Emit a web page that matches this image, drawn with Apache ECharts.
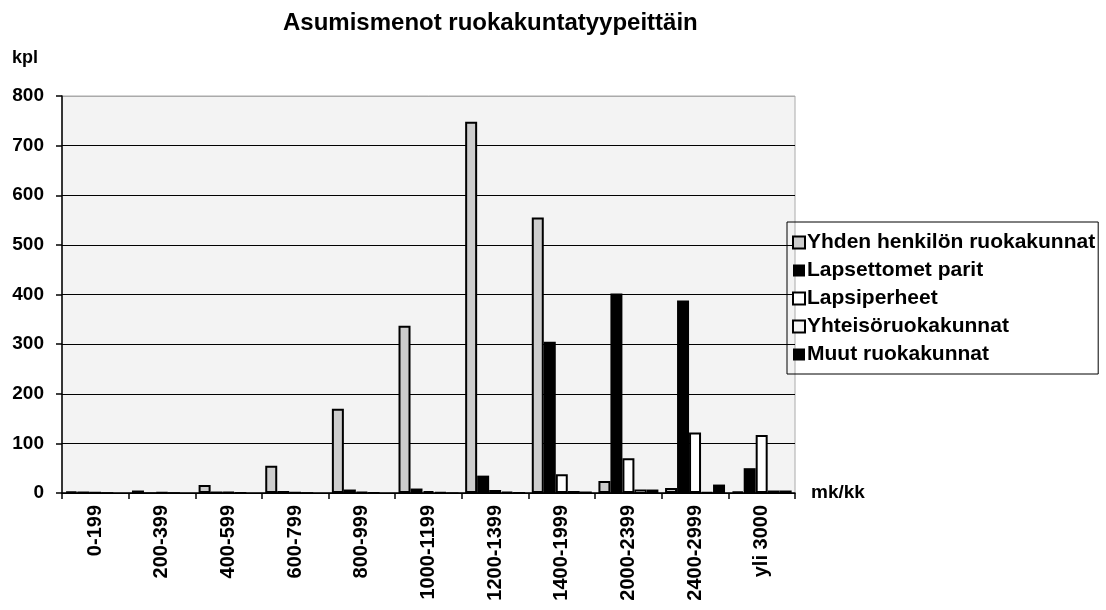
<!DOCTYPE html>
<html>
<head>
<meta charset="utf-8">
<script src="https://cdn.jsdelivr.net/npm/echarts@6/dist/echarts.min.js"></script>
<style>
  html, body { margin: 0; padding: 0; background: #fff; }
  #main { width: 1106px; height: 610px; }
</style>
</head>
<body>
<div id="main"></div>
<script>
// luokat (mk/kk) ja sarjat (kpl)
var categories = ['0-199', '200-399', '400-599', '600-799', '800-999', '1000-1199',
                  '1200-1399', '1400-1999', '2000-2399', '2400-2999', 'yli 3000'];
var yhden        = [3, 5, 16, 55, 170, 337, 748, 555, 24, 10, 3];
var lapsettomet  = [3, 1, 3, 4, 7, 9, 35, 305, 402, 388, 50];
var lapsiperheet = [1, 1, 2, 1, 2, 4, 6, 38, 70, 122, 117];
var yhteiso      = [0, 0, 1, 0, 1, 2, 3, 4, 7, 2, 5];
var muut         = [0, 0, 0, 0, 0, 1, 2, 3, 7, 17, 5];
var seriesNames  = ['Yhden henkilön ruokakunnat', 'Lapsettomet parit', 'Lapsiperheet',
                    'Yhteisöruokakunnat', 'Muut ruokakunnat'];

var chart = echarts.init(document.getElementById('main'));
var font = 'Liberation Sans, Arial, sans-serif';

function bar(name, data, style) {
    return {
        name: name,
        type: 'bar',
        data: data,
        barGap: '0%',
        barCategoryGap: '10%',
        itemStyle: style
    };
}

var option = {
    animation: false,
    backgroundColor: '#fff',
    textStyle: { fontFamily: font },
    title: [
        {
            text: 'Asumismenot ruokakuntatyypeittäin',
            left: 278, top: 6,
            textStyle: { fontSize: 24, fontWeight: 'bold', color: '#000', fontFamily: font }
        },
        {
            text: 'kpl',
            left: 7, top: 44,
            textStyle: { fontSize: 18, fontWeight: 'bold', color: '#000', fontFamily: font }
        }
    ],
    legend: {
        orient: 'vertical',
        left: 787, top: 222,
        padding: [10, 3, 9, 5],
        itemGap: 7,
        itemWidth: 12, itemHeight: 12,
        icon: 'rect',
        borderColor: '#000', borderWidth: 1,
        textStyle: { fontSize: 21, fontWeight: 'bold', color: '#000', fontFamily: font, padding: [0, 0, 0, -3] },
        data: seriesNames
    },
    grid: {
        left: 62, right: 311, top: 96, bottom: 117,
        show: true,
        backgroundColor: '#f3f3f3',
        borderColor: '#aaa', borderWidth: 1
    },
    xAxis: {
        type: 'category',
        data: categories,
        name: 'mk/kk',
        nameLocation: 'end',
        nameGap: 16,
        nameTextStyle: { fontSize: 19, fontWeight: 'bold', color: '#000', fontFamily: font },
        axisLine: { lineStyle: { color: '#000', width: 1.5 } },
        axisTick: { show: true, length: 6, lineStyle: { color: '#000', width: 1.5 } },
        axisLabel: {
            rotate: 90, interval: 0, margin: 12,
            fontSize: 20, fontWeight: 'bold', color: '#000', fontFamily: font
        }
    },
    yAxis: {
        type: 'value',
        min: 0, max: 800, interval: 100,
        axisLine: { show: true, lineStyle: { color: '#000', width: 1.5 } },
        axisTick: { show: true, length: 6, lineStyle: { color: '#000', width: 1.5 } },
        axisLabel: { fontSize: 19, fontWeight: 'bold', color: '#000', margin: 18, fontFamily: font },
        splitLine: {
            lineStyle: {
                color: ['#000', '#000', '#000', '#000', '#000', '#000', '#000', '#000', '#aaa'],
                width: 1.2
            }
        }
    },
    series: [
        bar(seriesNames[0], yhden, { color: '#cdcdcd', borderColor: '#000', borderWidth: 2 }),
        bar(seriesNames[1], lapsettomet, { color: '#000' }),
        bar(seriesNames[2], lapsiperheet, { color: '#fff', borderColor: '#000', borderWidth: 2 }),
        bar(seriesNames[3], yhteiso, { color: '#f4f4f4', borderColor: '#000', borderWidth: 1.5 }),
        bar(seriesNames[4], muut, { color: '#000' })
    ]
};

chart.setOption(option);
</script>
</body>
</html>
